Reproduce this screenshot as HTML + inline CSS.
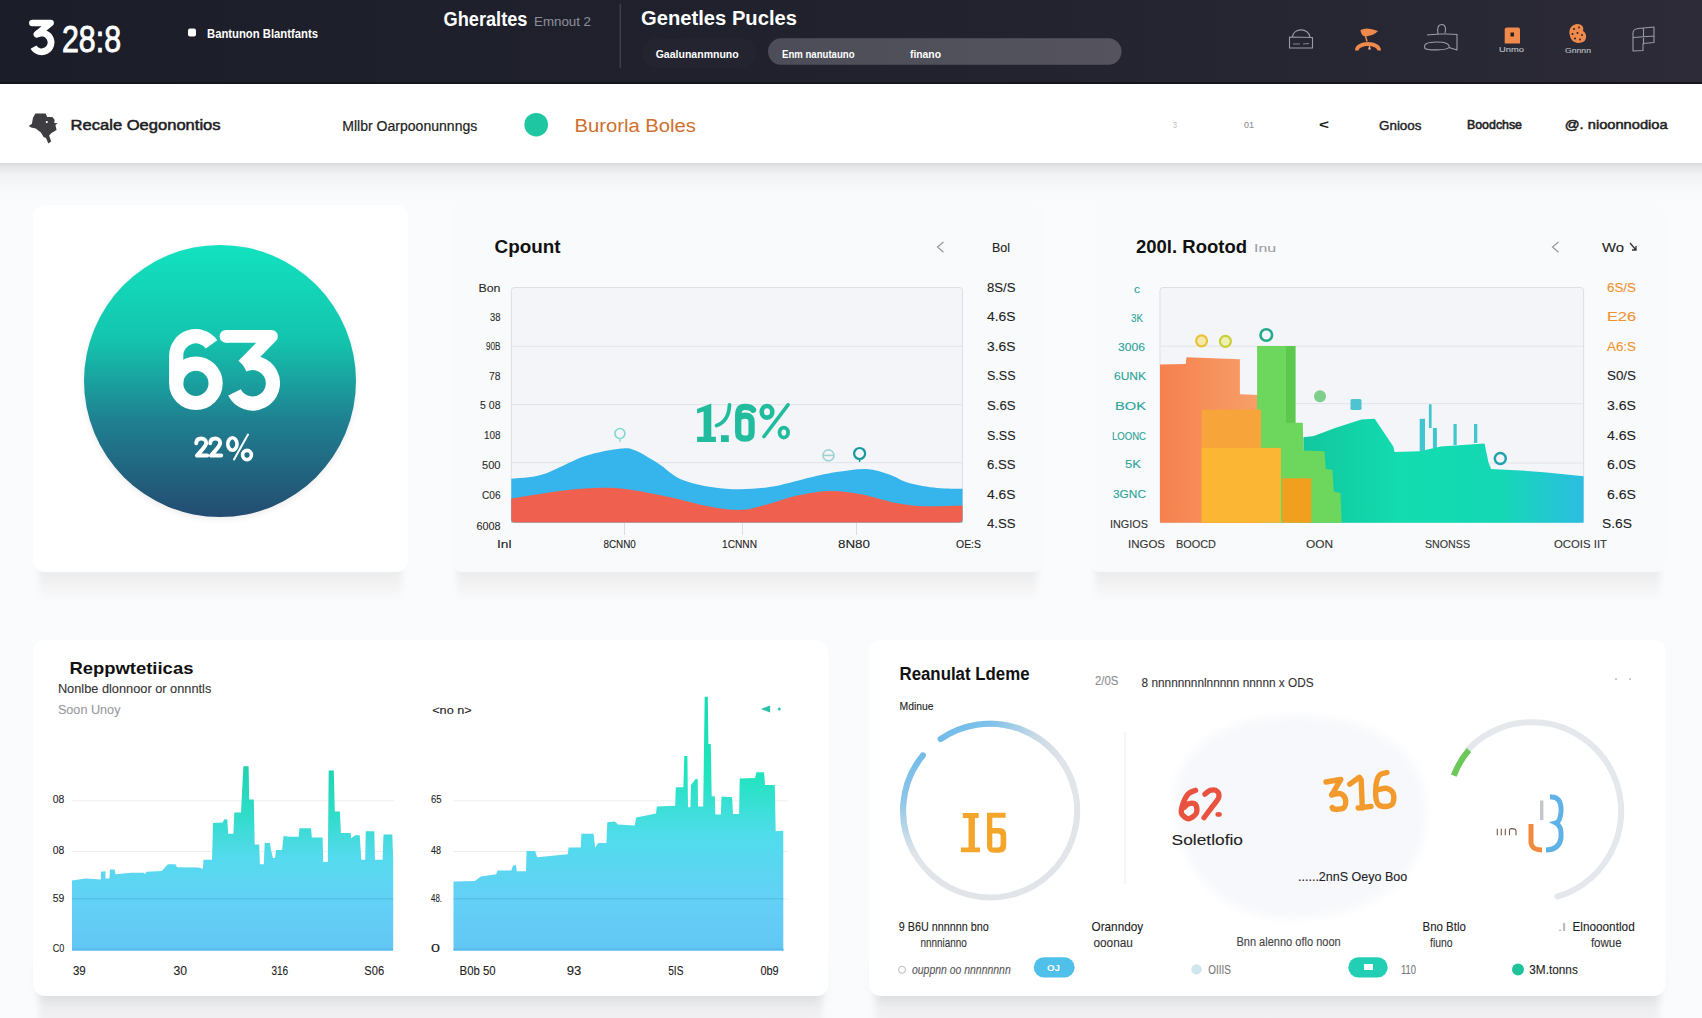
<!DOCTYPE html>
<html><head><meta charset="utf-8"><title>Dashboard</title>
<style>html,body{margin:0;padding:0;background:#fafbfc;overflow:hidden}svg{display:block}</style>
</head><body>
<svg width="1702" height="1018" viewBox="0 0 1702 1018">
<defs>
<linearGradient id="hdr" x1="0" y1="0" x2="1" y2="0">
 <stop offset="0" stop-color="#1b1d29"/><stop offset="0.6" stop-color="#22232f"/><stop offset="1" stop-color="#2c2b37"/>
</linearGradient>
<linearGradient id="circ" x1="0" y1="0" x2="0" y2="1">
 <stop offset="0" stop-color="#12e2bf"/><stop offset="0.35" stop-color="#14c4ae"/><stop offset="0.65" stop-color="#1f7f90"/><stop offset="1" stop-color="#234c70"/>
</linearGradient>
<linearGradient id="pill" x1="0" y1="0" x2="1" y2="0">
 <stop offset="0" stop-color="#4c4d58"/><stop offset="1" stop-color="#55545e"/>
</linearGradient>
<linearGradient id="bars" x1="0" y1="0" x2="0" y2="1">
 <stop offset="0" stop-color="#1fd3b0"/><stop offset="0.25" stop-color="#2edcc8"/><stop offset="0.5" stop-color="#55daee"/><stop offset="0.75" stop-color="#63d0f6"/><stop offset="1" stop-color="#62c6f4"/>
</linearGradient>
<linearGradient id="bars2" x1="0" y1="0" x2="0" y2="1">
 <stop offset="0" stop-color="#14dcb4"/><stop offset="0.3" stop-color="#1fe4bc"/><stop offset="0.55" stop-color="#50dcec"/><stop offset="0.8" stop-color="#64d0f6"/><stop offset="1" stop-color="#62c6f4"/>
</linearGradient>
<linearGradient id="orng" x1="0" y1="0" x2="1" y2="0">
 <stop offset="0" stop-color="#f6804e"/><stop offset="1" stop-color="#f7a06a"/>
</linearGradient>
<linearGradient id="teal" x1="0" y1="0" x2="1" y2="0">
 <stop offset="0" stop-color="#12c79f"/><stop offset="0.35" stop-color="#12dcb0"/><stop offset="0.7" stop-color="#14d8b4"/><stop offset="1" stop-color="#2cbde2"/>
</linearGradient>
<linearGradient id="ring1" x1="0" y1="0" x2="1" y2="0.3">
 <stop offset="0" stop-color="#6fbbea"/><stop offset="0.35" stop-color="#7fc2ea"/><stop offset="0.7" stop-color="#c7d9e6"/><stop offset="1" stop-color="#e1e4e8"/>
</linearGradient>
<linearGradient id="ring1b" x1="0" y1="0" x2="0" y2="1">
 <stop offset="0" stop-color="#74bde9"/><stop offset="0.45" stop-color="#8cc6ea"/><stop offset="1" stop-color="#e1e4e8"/>
</linearGradient>
<linearGradient id="cardsh" x1="0" y1="0" x2="0" y2="1">
 <stop offset="0" stop-color="#e6e7e9"/><stop offset="0.3" stop-color="#eeeff0"/><stop offset="0.7" stop-color="#f6f6f7"/><stop offset="1" stop-color="#fafbfc"/>
</linearGradient>
<linearGradient id="botsh" x1="0" y1="0" x2="0" y2="1">
 <stop offset="0" stop-color="#e9eaec"/><stop offset="0.25" stop-color="#ebecee"/><stop offset="0.7" stop-color="#f1f1f3"/><stop offset="1" stop-color="#f4f4f6"/>
</linearGradient>
<filter id="blur3" x="-10%" y="-30%" width="120%" height="160%"><feGaussianBlur stdDeviation="3"/></filter>
<filter id="blur5" x="-30%" y="-30%" width="160%" height="160%"><feGaussianBlur stdDeviation="5"/></filter>
<filter id="blur8" x="-30%" y="-30%" width="160%" height="160%"><feGaussianBlur stdDeviation="8"/></filter>
<filter id="blur12" x="-30%" y="-30%" width="160%" height="160%"><feGaussianBlur stdDeviation="12"/></filter>
<radialGradient id="blob" cx="0.5" cy="0.5" r="0.5">
 <stop offset="0" stop-color="#eef2f7"/><stop offset="0.75" stop-color="#f0f3f7"/><stop offset="1" stop-color="#f0f3f7" stop-opacity="0"/>
</radialGradient>
<filter id="sh" x="-10%" y="-10%" width="120%" height="130%">
 <feDropShadow dx="0" dy="6" stdDeviation="6" flood-color="#000" flood-opacity="0.07"/>
</filter>
<filter id="sh2" x="-10%" y="-10%" width="120%" height="130%">
 <feDropShadow dx="0" dy="3" stdDeviation="3" flood-color="#000" flood-opacity="0.10"/>
</filter>
<linearGradient id="navsh" x1="0" y1="0" x2="0" y2="1">
 <stop offset="0" stop-color="#d6d7d9"/><stop offset="0.1" stop-color="#e2e3e5"/><stop offset="0.3" stop-color="#f1f2f3"/><stop offset="0.7" stop-color="#f8f9fa"/><stop offset="1" stop-color="#fafbfc"/>
</linearGradient>
<filter id="blur6"><feGaussianBlur stdDeviation="6"/></filter>
</defs>
<rect x="0" y="0" width="1702" height="1018" fill="#fafbfc"/><rect x="0" y="0" width="1702" height="84" fill="url(#hdr)"/><rect x="0" y="82" width="1702" height="2" fill="#14151d"/><path d="M32.4,23 L50.6,23 L36.9,34.3" fill="none" stroke="#fff" stroke-width="6.6" stroke-linecap="round" stroke-linejoin="round"/><path d="M36.9,34.3 A9.4,9.4 0 1 1 33.5,47.1" fill="none" stroke="#fff" stroke-width="6.8"/><text x="62" y="52.4" font-size="36" font-weight="normal" fill="#fff" text-anchor="start" font-family='"Liberation Sans", sans-serif' textLength="59" lengthAdjust="spacingAndGlyphs" stroke="#fff" stroke-width="0.9">28:8</text>
<rect x="188" y="28.5" width="8" height="8" rx="2" fill="#fff"/><text x="207" y="37.5" font-size="12" font-weight="bold" fill="#fff" text-anchor="start" font-family='"Liberation Sans", sans-serif' textLength="111" lengthAdjust="spacingAndGlyphs" >Bantunon Blantfants</text>
<text x="443.5" y="25.5" font-size="19.5" font-weight="bold" fill="#fff" text-anchor="start" font-family='"Liberation Sans", sans-serif' textLength="84" lengthAdjust="spacingAndGlyphs" >Gheraltes</text>
<text x="534" y="26" font-size="13" font-weight="normal" fill="#8b8c96" text-anchor="start" font-family='"Liberation Sans", sans-serif' textLength="57" lengthAdjust="spacingAndGlyphs" stroke="#8b8c96" stroke-width="0.1" >Emnout 2</text>
<rect x="619.5" y="4" width="1.6" height="64" fill="#3c3d48"/><text x="641" y="24.7" font-size="19.5" font-weight="bold" fill="#fff" text-anchor="start" font-family='"Liberation Sans", sans-serif' textLength="156" lengthAdjust="spacingAndGlyphs" >Genetles Pucles</text>
<rect x="642" y="38" width="114" height="30" rx="15" fill="#23242f"/><text x="655.7" y="58" font-size="11" font-weight="bold" fill="#fff" text-anchor="start" font-family='"Liberation Sans", sans-serif' textLength="83" lengthAdjust="spacingAndGlyphs" >Gaalunanmnuno</text>
<rect x="768" y="38.3" width="353.5" height="26.5" rx="13.2" fill="url(#pill)"/><text x="782" y="58.4" font-size="11" font-weight="bold" fill="#fff" text-anchor="start" font-family='"Liberation Sans", sans-serif' textLength="72.5" lengthAdjust="spacingAndGlyphs" >Enm nanutauno</text>
<text x="910" y="58.4" font-size="11" font-weight="bold" fill="#fff" text-anchor="start" font-family='"Liberation Sans", sans-serif' textLength="31" lengthAdjust="spacingAndGlyphs" >finano</text>
<g fill="none" stroke="#9a9ba5" stroke-width="1.1" stroke-linejoin="round">
 <path d="M1289.5,48 L1289.5,37 L1312.5,37.5 L1312.5,48 Z"/><path d="M1292.5,37 C1293,27.5 1309,27.5 1310,37.3"/>
 <path d="M1293,44 L1300,44 M1303,44 L1309,43.5" stroke-width="0.8"/>
 <path d="M1438,34 C1437,28 1438,24.5 1442,24.5 C1446,24.5 1446,30 1445,33 M1427,35 C1432,34 1450,33.5 1457,34.5 L1457,50 L1449,47.5 M1425,48.5 C1423,44 1428,42 1436,42 C1446,42 1450,44 1449,47.5 C1447,50.5 1428,50.5 1425,48.5 Z"/>
 <path d="M1633,51 L1633,33 C1633,30 1635,29 1638,28.5 L1654,27 L1654,42.5 L1643,43.5 L1643,50.5 Z M1643.5,28.5 L1643.5,43.5 M1633.5,37.5 L1654,36"/>
</g><g fill="#f08a4b">
 <path d="M1360.5,30 Q1367,26.5 1378,31 Q1374,35.5 1365,36.5 Q1361,35.5 1360.5,30 Z"/>
 <path d="M1365.5,36 L1367,41.5" stroke="#f08a4b" stroke-width="1.5"/>
 <path d="M1355,50.5 C1355,39 1381,39 1381,50.5 L1377.5,50.5 C1376.5,44.5 1359.5,44.5 1358.5,50.5 Z"/>
 <path d="M1368,49.5 L1369.5,45 L1371,49.5 Z" fill="#f4b088"/>
 <path d="M1504.7,29.5 Q1504.7,27.6 1507,27.6 L1518,27.6 Q1520,27.6 1520,29.5 L1520,43.5 L1504.7,43.5 Z"/>
 <path d="M1570,36 C1568,30 1571,24.5 1577,24 C1583,24 1584,28 1583,31 C1587,33 1587,39 1584,41.5 C1580,44 1572,44 1570,36 Z"/>
</g><rect x="1510.5" y="32.5" width="3.5" height="4" fill="#2a2022"/><g fill="#2a2026"><circle cx="1574" cy="29" r="1"/><circle cx="1579" cy="27.5" r="0.9"/><circle cx="1572.5" cy="34" r="1"/><circle cx="1577.5" cy="33" r="1"/><circle cx="1582" cy="35" r="0.9"/><circle cx="1575" cy="38.5" r="1"/><circle cx="1580" cy="39.5" r="0.9"/></g><text x="1499" y="52" font-size="7" font-weight="normal" fill="#bfc0c8" text-anchor="start" font-family='"Liberation Sans", sans-serif' textLength="25" lengthAdjust="spacingAndGlyphs" stroke="#bfc0c8" stroke-width="0.1" >Unmo</text>
<text x="1565" y="52.5" font-size="7" font-weight="normal" fill="#bfc0c8" text-anchor="start" font-family='"Liberation Sans", sans-serif' textLength="26" lengthAdjust="spacingAndGlyphs" stroke="#bfc0c8" stroke-width="0.1" >Gnnnn</text>
<rect x="0" y="162" width="1702" height="40" fill="url(#navsh)"/><rect x="0" y="84" width="1702" height="79" fill="#fff"/><path d="M28.7,126.1 L31.9,123.7 L33,117.8 L35.4,113.5 L45.6,113.5 L47.2,117 L52.3,117 L54.6,119.8 L54.3,122.9 L57.8,123.3 L55.4,124.9 L56.6,130 L51.5,133.1 L49.1,135.5 L51.1,141.4 L48.4,143.4 L46,137.9 L43.6,137.1 L40.9,132.4 L35.8,128.4 L31.1,127.6 Z" fill="#3d3d42"/><circle cx="46.8" cy="122.1" r="1.1" fill="#fff"/><text x="70.6" y="130.2" font-size="14" font-weight="normal" fill="#1d1d1f" text-anchor="start" font-family='"Liberation Sans", sans-serif' textLength="150" lengthAdjust="spacingAndGlyphs" stroke="#1d1d1f" stroke-width="0.5">Recale Oegonontios</text>
<text x="342.3" y="130.5" font-size="14" font-weight="normal" fill="#222" text-anchor="start" font-family='"Liberation Sans", sans-serif' textLength="135" lengthAdjust="spacingAndGlyphs" stroke="#222" stroke-width="0.2">Mllbr Oarpoonunnngs</text>
<circle cx="536.2" cy="124.7" r="11.8" fill="#1ec6a2"/><text x="574.5" y="132" font-size="18" font-weight="normal" fill="#cf6f2c" text-anchor="start" font-family='"Liberation Sans", sans-serif' textLength="121.5" lengthAdjust="spacingAndGlyphs" >Burorla Boles</text>
<text x="1173" y="128.2" font-size="9" font-weight="normal" fill="#c2c3c8" text-anchor="start" font-family='"Liberation Sans", sans-serif' textLength="4" lengthAdjust="spacingAndGlyphs" stroke="#c2c3c8" stroke-width="0.1" >3</text>
<text x="1244" y="128.2" font-size="9" font-weight="normal" fill="#8d8f96" text-anchor="start" font-family='"Liberation Sans", sans-serif' textLength="10" lengthAdjust="spacingAndGlyphs" stroke="#8d8f96" stroke-width="0.1" >01</text>
<text x="1319" y="129" font-size="12" font-weight="bold" fill="#222" text-anchor="start" font-family='"Liberation Sans", sans-serif' textLength="10" lengthAdjust="spacingAndGlyphs" >&lt;</text>
<text x="1379" y="130" font-size="13" font-weight="normal" fill="#222" text-anchor="start" font-family='"Liberation Sans", sans-serif' textLength="42.5" lengthAdjust="spacingAndGlyphs" stroke="#222" stroke-width="0.4">Gnioos</text>
<text x="1467" y="128.5" font-size="13" font-weight="normal" fill="#222" text-anchor="start" font-family='"Liberation Sans", sans-serif' textLength="55" lengthAdjust="spacingAndGlyphs" stroke="#222" stroke-width="0.6">Boodchse</text>
<text x="1564.7" y="129" font-size="13" font-weight="normal" fill="#222" text-anchor="start" font-family='"Liberation Sans", sans-serif' textLength="103" lengthAdjust="spacingAndGlyphs" stroke="#222" stroke-width="0.5">@. nioonnodioa</text>
<rect x="39" y="566" width="363" height="36" fill="url(#cardsh)" filter="url(#blur3)"/><rect x="33" y="205" width="375" height="367" rx="12" fill="#fff"/><rect x="457" y="566" width="580" height="36" fill="url(#cardsh)" filter="url(#blur3)"/><rect x="451" y="200" width="592" height="372" rx="12" fill="#f9fafb"/><rect x="1095" y="566" width="565" height="36" fill="url(#cardsh)" filter="url(#blur3)"/><rect x="1089" y="200" width="577" height="372" rx="12" fill="#f9fafb"/><circle cx="220" cy="383" r="136.5" fill="#000" opacity="0.07" filter="url(#blur3)"/><circle cx="220" cy="381" r="136" fill="url(#circ)"/><circle cx="195.9" cy="383.3" r="19.7" fill="none" stroke="#fff" stroke-width="14.2"/><path d="M176.2,383.3 L176.2,355.5 A19.5,19.5 0 0 1 211.5,344.3" fill="none" stroke="#fff" stroke-width="14.2"/><path d="M225.8,336.3 L271.5,336.3 L243.1,365.3" fill="none" stroke="#fff" stroke-width="12.8" stroke-linejoin="round"/><path d="M226,336.3 L226.5,336.3" stroke="#fff" stroke-width="12.8" stroke-linecap="round"/><path d="M243.1,365.3 A20.3,20.3 0 1 1 234.5,392.4" fill="none" stroke="#fff" stroke-width="14.2"/><path d="M196.2,443.2 C196.5,439.5 199,438.6 201.2,438.6 C204,438.6 206.2,440.3 206.2,443 C206.2,446 203,448.5 197,455.6 L207.2,455.6" fill="none" stroke="#fff" stroke-width="4" stroke-linecap="round" stroke-linejoin="round"/><path d="M210.2,443.2 C210.5,439.5 213.0,438.6 215.2,438.6 C218.0,438.6 220.2,440.3 220.2,443 C220.2,446 217.0,448.5 211.0,455.6 L221.2,455.6" fill="none" stroke="#fff" stroke-width="4" stroke-linecap="round" stroke-linejoin="round"/><ellipse cx="232.4" cy="444" rx="4.6" ry="6.2" fill="none" stroke="#fff" stroke-width="3.6"/><ellipse cx="247" cy="455" rx="4.4" ry="4.6" fill="none" stroke="#fff" stroke-width="3.6"/><path d="M248,434.5 L234,459.5" stroke="#fff" stroke-width="2" stroke-linecap="round"/><text x="494.6" y="253.1" font-size="18" font-weight="bold" fill="#111" text-anchor="start" font-family='"Liberation Sans", sans-serif' textLength="66" lengthAdjust="spacingAndGlyphs" >Cpount</text>
<path d="M943.5,242 L937.5,247 L943.5,252.3" fill="none" stroke="#999" stroke-width="1.2"/><text x="992" y="252" font-size="12" font-weight="normal" fill="#222" text-anchor="start" font-family='"Liberation Sans", sans-serif' textLength="18" lengthAdjust="spacingAndGlyphs" stroke="#222" stroke-width="0.1" >Bol</text>
<rect x="511.3" y="287.5" width="451.2" height="235" rx="3" fill="#f4f5f8" stroke="#dcdfe3" stroke-width="1"/><rect x="512" y="345.7" width="450" height="1.2" fill="#e4e6ea"/><rect x="512" y="404" width="450" height="1.2" fill="#e4e6ea"/><rect x="512" y="462" width="450" height="1.2" fill="#e4e6ea"/><path d="M511.3,478.8 C516.5,478.1 530.1,478.4 542.3,474.6 C554.5,470.9 571.4,460.6 584.6,456.3 C597.8,452.0 612.8,449.6 621.3,448.6 C629.8,447.7 629.3,448.2 635.4,450.6 C641.5,453.1 649.9,458.4 657.9,463.3 C665.9,468.2 672.0,476.0 683.3,480.2 C694.6,484.4 711.5,487.5 725.6,488.7 C739.7,489.9 753.8,489.2 767.9,487.3 C782.0,485.4 798.5,480.0 810.2,477.4 C822.0,474.8 829.0,473.2 838.4,471.8 C847.8,470.4 858.1,468.5 866.6,469 C875.1,469.5 882.2,472.3 889.2,474.6 C896.2,476.9 900.9,480.8 908.9,483 C916.9,485.2 928.2,487.1 937.1,488 C946.0,488.9 958.3,488.6 962.5,488.7 L962.5,522.5 L511.3,522.5 Z" fill="#36b5ec"/><path d="M511.3,498.6 C518.8,497.4 542.8,493.2 556.4,491.5 C570.0,489.8 581.2,488.5 593,488.1 C604.8,487.7 614.2,487.7 626.9,489.2 C639.6,490.7 655.1,494.1 669.2,497.1 C683.3,500.1 699.3,504.9 711.5,507 C723.7,509.1 733.1,510.3 742.5,509.8 C751.9,509.3 759.0,506.6 767.9,504.2 C776.8,501.8 785.8,497.9 796.1,495.7 C806.5,493.5 819.2,491.1 830,490.9 C840.8,490.7 850.2,492.3 861,494.3 C871.8,496.3 884.5,500.8 894.8,502.8 C905.1,504.8 911.7,505.7 923,506.2 C934.3,506.7 955.9,505.7 962.5,505.6 L962.5,519 Q962.5,522.5 959,522.5 L514.8,522.5 Q511.3,522.5 511.3,519 Z" fill="#f0604f"/><g fill="#21bc9d" stroke="none">
 <path d="M697.1,409 L710.7,403.8 L711.3,403.8 L711.3,436.8 L715.9,436.8 L715.9,442 L697.1,442 L697.1,436.8 L703.6,436.8 L703.6,411.5 L697.1,413.5 Z"/>
 <rect x="721" y="435.2" width="7.8" height="6.8"/>
</g>
<g fill="none" stroke="#21bc9d">
 <path d="M729.5,405 C729,416 724,423 716.5,425.5" stroke-width="3.8" stroke-linecap="round"/>
 <path d="M753,409.8 C751,406.8 748,406.8 745,406.8 C740,406.8 738.2,410 738.2,415 L738.2,432.5 C738.2,437 740.5,438.6 745,438.6 C749.5,438.6 751.6,437 751.6,432.5 L751.6,422 C751.6,417.5 749.5,415.6 745,415.6 C741,415.6 738.5,417.5 738.2,420" stroke-width="6.3" stroke-linecap="round"/>
 <ellipse cx="767" cy="411.8" rx="5.3" ry="5.8" stroke-width="4.6"/>
 <path d="M788,404.8 L764,436.5" stroke-width="3.6" stroke-linecap="round"/>
 <ellipse cx="783.8" cy="432.6" rx="4.3" ry="5" stroke-width="3.8"/>
</g><g fill="none" stroke-width="1.6"><circle cx="619.9" cy="433.5" r="5" stroke="#7fd6d0"/><path d="M619.9,438.5 L619.9,442" stroke="#9fdcd8"/><circle cx="828.5" cy="455.4" r="5.5" stroke="#9ed3d2"/><path d="M823,455.4 L834,455.4" stroke="#9ed3d2"/><circle cx="859.6" cy="453.5" r="5.5" stroke="#169aa0" stroke-width="2.2"/><path d="M859.6,459 L859.6,462" stroke="#169aa0"/></g><rect x="624" y="523" width="1" height="12" fill="#dcdde2"/><rect x="742" y="523" width="1" height="12" fill="#dcdde2"/><rect x="856" y="523" width="1" height="12" fill="#dcdde2"/><text x="500.5" y="292" font-size="11" font-weight="normal" fill="#2a2a2a" text-anchor="end" font-family='"Liberation Sans", sans-serif' textLength="22.100000000000023" lengthAdjust="spacingAndGlyphs" stroke="#2a2a2a" stroke-width="0.1" >Bon</text>
<text x="500.5" y="320.5" font-size="11" font-weight="normal" fill="#2a2a2a" text-anchor="end" font-family='"Liberation Sans", sans-serif' textLength="10.5" lengthAdjust="spacingAndGlyphs" stroke="#2a2a2a" stroke-width="0.1" >38</text>
<text x="500.5" y="350" font-size="11" font-weight="normal" fill="#2a2a2a" text-anchor="end" font-family='"Liberation Sans", sans-serif' textLength="14.5" lengthAdjust="spacingAndGlyphs" stroke="#2a2a2a" stroke-width="0.1" >90B</text>
<text x="500.5" y="379.5" font-size="11" font-weight="normal" fill="#2a2a2a" text-anchor="end" font-family='"Liberation Sans", sans-serif' textLength="11.5" lengthAdjust="spacingAndGlyphs" stroke="#2a2a2a" stroke-width="0.1" >78</text>
<text x="500.5" y="409" font-size="11" font-weight="normal" fill="#2a2a2a" text-anchor="end" font-family='"Liberation Sans", sans-serif' textLength="20.5" lengthAdjust="spacingAndGlyphs" stroke="#2a2a2a" stroke-width="0.1" >5 08</text>
<text x="500.5" y="439" font-size="11" font-weight="normal" fill="#2a2a2a" text-anchor="end" font-family='"Liberation Sans", sans-serif' textLength="16.5" lengthAdjust="spacingAndGlyphs" stroke="#2a2a2a" stroke-width="0.1" >108</text>
<text x="500.5" y="468.5" font-size="11" font-weight="normal" fill="#2a2a2a" text-anchor="end" font-family='"Liberation Sans", sans-serif' textLength="18.5" lengthAdjust="spacingAndGlyphs" stroke="#2a2a2a" stroke-width="0.1" >500</text>
<text x="500.5" y="499" font-size="11" font-weight="normal" fill="#2a2a2a" text-anchor="end" font-family='"Liberation Sans", sans-serif' textLength="18.5" lengthAdjust="spacingAndGlyphs" stroke="#2a2a2a" stroke-width="0.1" >C06</text>
<text x="500.5" y="530" font-size="11" font-weight="normal" fill="#2a2a2a" text-anchor="end" font-family='"Liberation Sans", sans-serif' textLength="24.100000000000023" lengthAdjust="spacingAndGlyphs" stroke="#2a2a2a" stroke-width="0.1" >6008</text>
<text x="987" y="291.5" font-size="13" font-weight="normal" fill="#222" text-anchor="start" font-family='"Liberation Sans", sans-serif' textLength="28.5" lengthAdjust="spacingAndGlyphs" stroke="#222" stroke-width="0.1" >8S/S</text>
<text x="987" y="321.1" font-size="13" font-weight="normal" fill="#222" text-anchor="start" font-family='"Liberation Sans", sans-serif' textLength="28.5" lengthAdjust="spacingAndGlyphs" stroke="#222" stroke-width="0.1" >4.6S</text>
<text x="987" y="350.7" font-size="13" font-weight="normal" fill="#222" text-anchor="start" font-family='"Liberation Sans", sans-serif' textLength="28.5" lengthAdjust="spacingAndGlyphs" stroke="#222" stroke-width="0.1" >3.6S</text>
<text x="987" y="380.3" font-size="13" font-weight="normal" fill="#222" text-anchor="start" font-family='"Liberation Sans", sans-serif' textLength="28.5" lengthAdjust="spacingAndGlyphs" stroke="#222" stroke-width="0.1" >S.SS</text>
<text x="987" y="409.9" font-size="13" font-weight="normal" fill="#222" text-anchor="start" font-family='"Liberation Sans", sans-serif' textLength="28.5" lengthAdjust="spacingAndGlyphs" stroke="#222" stroke-width="0.1" >S.6S</text>
<text x="987" y="439.5" font-size="13" font-weight="normal" fill="#222" text-anchor="start" font-family='"Liberation Sans", sans-serif' textLength="28.5" lengthAdjust="spacingAndGlyphs" stroke="#222" stroke-width="0.1" >S.SS</text>
<text x="987" y="469.1" font-size="13" font-weight="normal" fill="#222" text-anchor="start" font-family='"Liberation Sans", sans-serif' textLength="28.5" lengthAdjust="spacingAndGlyphs" stroke="#222" stroke-width="0.1" >6.SS</text>
<text x="987" y="498.70000000000005" font-size="13" font-weight="normal" fill="#222" text-anchor="start" font-family='"Liberation Sans", sans-serif' textLength="28.5" lengthAdjust="spacingAndGlyphs" stroke="#222" stroke-width="0.1" >4.6S</text>
<text x="987" y="528.3" font-size="13" font-weight="normal" fill="#222" text-anchor="start" font-family='"Liberation Sans", sans-serif' textLength="28.5" lengthAdjust="spacingAndGlyphs" stroke="#222" stroke-width="0.1" >4.SS</text>
<text x="497" y="548.4" font-size="11" font-weight="normal" fill="#222" text-anchor="start" font-family='"Liberation Sans", sans-serif' textLength="14.5" lengthAdjust="spacingAndGlyphs" stroke="#222" stroke-width="0.1" >Inl</text>
<text x="603.4" y="548.4" font-size="11" font-weight="normal" fill="#222" text-anchor="start" font-family='"Liberation Sans", sans-serif' textLength="32.4" lengthAdjust="spacingAndGlyphs" stroke="#222" stroke-width="0.1" >8CNN0</text>
<text x="722" y="548.4" font-size="11" font-weight="normal" fill="#222" text-anchor="start" font-family='"Liberation Sans", sans-serif' textLength="35" lengthAdjust="spacingAndGlyphs" stroke="#222" stroke-width="0.1" >1CNNN</text>
<text x="838" y="548.4" font-size="11" font-weight="normal" fill="#222" text-anchor="start" font-family='"Liberation Sans", sans-serif' textLength="32" lengthAdjust="spacingAndGlyphs" stroke="#222" stroke-width="0.1" >8N80</text>
<text x="956" y="548.4" font-size="11" font-weight="normal" fill="#222" text-anchor="start" font-family='"Liberation Sans", sans-serif' textLength="25" lengthAdjust="spacingAndGlyphs" stroke="#222" stroke-width="0.1" >OE:S</text>
<text x="1136" y="253.1" font-size="18" font-weight="bold" fill="#111" text-anchor="start" font-family='"Liberation Sans", sans-serif' textLength="111" lengthAdjust="spacingAndGlyphs" >200l. Rootod</text>
<text x="1254" y="252" font-size="11" font-weight="normal" fill="#a0a0a8" text-anchor="start" font-family='"Liberation Sans", sans-serif' textLength="22" lengthAdjust="spacingAndGlyphs" stroke="#a0a0a8" stroke-width="0.1" >Inu</text>
<path d="M1558.5,242 L1552.5,247 L1558.5,252.3" fill="none" stroke="#999" stroke-width="1.2"/><text x="1602" y="252" font-size="12" font-weight="normal" fill="#222" text-anchor="start" font-family='"Liberation Sans", sans-serif' textLength="22" lengthAdjust="spacingAndGlyphs" stroke="#222" stroke-width="0.1" >Wo</text>
<path d="M1630,243 L1636,250 M1636,246 L1636,250 L1632,250" fill="none" stroke="#333" stroke-width="1.3"/><rect x="1160" y="287.5" width="423.6" height="235" rx="3" fill="#f4f5f8" stroke="#dcdfe3" stroke-width="1"/><rect x="1161" y="345.6" width="422" height="1.2" fill="#e4e6ea"/><rect x="1161" y="403" width="422" height="1.2" fill="#e4e6ea"/><rect x="1161" y="462.4" width="422" height="1.2" fill="#e4e6ea"/><polygon points="1160,522.7 1160,364.6 1185.7,364.1 1186.5,357.2 1239.9,359.3 1239.9,394.2 1259.7,395 1261,522.7" fill="url(#orng)"/><polygon points="1303.4,522.7 1303.4,437.3 1313.9,436 1335.1,428.1 1361.5,419.6 1374.7,418.8 1393.3,446.6 1394.6,451.9 1419.7,451.3 1440.9,446.6 1484.5,443.4 1488.5,462.4 1491.1,469 1520.2,470.4 1546.6,472.5 1583.6,476.2 1583.6,522.7" fill="url(#teal)"/><polygon points="1257.1,522.7 1257.1,346.1 1295.4,346.1 1295.4,422.8 1302.8,422.8 1303.4,450.5 1324.5,451.3 1325.8,469 1332.4,469.8 1333.8,491.5 1340.4,492.9 1341.7,522.7" fill="#6dd65c"/><rect x="1286" y="346.1" width="9.4" height="76.7" fill="#5cc94e"/><rect x="1201.6" y="409.6" width="59.4" height="113.1" fill="#f7a53a"/><rect x="1201.6" y="447.9" width="79.3" height="74.8" fill="#fbb634"/><rect x="1282.2" y="478.3" width="29.1" height="44.4" fill="#f0a01e"/><rect x="1419.7" y="418.8" width="5.2999999999999545" height="32.19999999999999" fill="#3fc6cf"/><rect x="1428.9" y="404.3" width="2.699999999999818" height="23.69999999999999" fill="#3fc6cf"/><rect x="1432.9" y="428" width="4.0" height="20" fill="#3fc6cf"/><rect x="1453.5" y="424" width="3.2000000000000455" height="21" fill="#3fc6cf"/><rect x="1474" y="424" width="3.2999999999999545" height="19" fill="#3fc6cf"/><g fill="none" stroke-width="2.2"><circle cx="1201.6" cy="340.8" r="5.5" stroke="#e8c23a" fill="#f6e9a8"/><circle cx="1225.4" cy="341.3" r="5.5" stroke="#c9cf3a" fill="#eef0b0"/><circle cx="1266.3" cy="335" r="5.8" stroke="#25a98e" stroke-width="2.6"/><circle cx="1500.3" cy="458.5" r="5.5" stroke="#1fa3ad" stroke-width="2.4"/></g><circle cx="1320" cy="396.3" r="6" fill="#7fcf8c"/><rect x="1350.5" y="399" width="11" height="11" rx="1.5" fill="#4ec4d0"/><text x="1134" y="293" font-size="11" font-weight="normal" fill="#2aa39a" text-anchor="start" font-family='"Liberation Sans", sans-serif' textLength="6" lengthAdjust="spacingAndGlyphs" stroke="#2aa39a" stroke-width="0.1" >c</text>
<text x="1131" y="322" font-size="11" font-weight="normal" fill="#2aa39a" text-anchor="start" font-family='"Liberation Sans", sans-serif' textLength="12" lengthAdjust="spacingAndGlyphs" stroke="#2aa39a" stroke-width="0.1" >3K</text>
<text x="1118" y="351" font-size="11" font-weight="normal" fill="#2aa39a" text-anchor="start" font-family='"Liberation Sans", sans-serif' textLength="27" lengthAdjust="spacingAndGlyphs" stroke="#2aa39a" stroke-width="0.1" >3006</text>
<text x="1114" y="380" font-size="11" font-weight="normal" fill="#2aa39a" text-anchor="start" font-family='"Liberation Sans", sans-serif' textLength="32" lengthAdjust="spacingAndGlyphs" stroke="#2aa39a" stroke-width="0.1" >6UNK</text>
<text x="1115" y="410" font-size="11" font-weight="normal" fill="#2aa39a" text-anchor="start" font-family='"Liberation Sans", sans-serif' textLength="31" lengthAdjust="spacingAndGlyphs" stroke="#2aa39a" stroke-width="0.1" >BOK</text>
<text x="1112" y="440" font-size="11" font-weight="normal" fill="#2aa39a" text-anchor="start" font-family='"Liberation Sans", sans-serif' textLength="34" lengthAdjust="spacingAndGlyphs" stroke="#2aa39a" stroke-width="0.1" >LOONC</text>
<text x="1125" y="468" font-size="11" font-weight="normal" fill="#2aa39a" text-anchor="start" font-family='"Liberation Sans", sans-serif' textLength="16" lengthAdjust="spacingAndGlyphs" stroke="#2aa39a" stroke-width="0.1" >5K</text>
<text x="1113" y="498" font-size="11" font-weight="normal" fill="#2aa39a" text-anchor="start" font-family='"Liberation Sans", sans-serif' textLength="33" lengthAdjust="spacingAndGlyphs" stroke="#2aa39a" stroke-width="0.1" >3GNC</text>
<text x="1110" y="528" font-size="11" font-weight="normal" fill="#333" text-anchor="start" font-family='"Liberation Sans", sans-serif' textLength="38" lengthAdjust="spacingAndGlyphs" stroke="#333" stroke-width="0.1" >INGIOS</text>
<text x="1607" y="291.5" font-size="13" font-weight="normal" fill="#f0922e" text-anchor="start" font-family='"Liberation Sans", sans-serif' textLength="29" lengthAdjust="spacingAndGlyphs" stroke="#f0922e" stroke-width="0.1" >6S/S</text>
<text x="1607" y="321.1" font-size="13" font-weight="normal" fill="#f0922e" text-anchor="start" font-family='"Liberation Sans", sans-serif' textLength="29" lengthAdjust="spacingAndGlyphs" stroke="#f0922e" stroke-width="0.1" >E26</text>
<text x="1607" y="350.7" font-size="13" font-weight="normal" fill="#f0922e" text-anchor="start" font-family='"Liberation Sans", sans-serif' textLength="29" lengthAdjust="spacingAndGlyphs" stroke="#f0922e" stroke-width="0.1" >A6:S</text>
<text x="1607" y="380.3" font-size="13" font-weight="normal" fill="#222" text-anchor="start" font-family='"Liberation Sans", sans-serif' textLength="29" lengthAdjust="spacingAndGlyphs" stroke="#222" stroke-width="0.1" >S0/S</text>
<text x="1607" y="409.9" font-size="13" font-weight="normal" fill="#222" text-anchor="start" font-family='"Liberation Sans", sans-serif' textLength="29" lengthAdjust="spacingAndGlyphs" stroke="#222" stroke-width="0.1" >3.6S</text>
<text x="1607" y="439.5" font-size="13" font-weight="normal" fill="#222" text-anchor="start" font-family='"Liberation Sans", sans-serif' textLength="29" lengthAdjust="spacingAndGlyphs" stroke="#222" stroke-width="0.1" >4.6S</text>
<text x="1607" y="469.1" font-size="13" font-weight="normal" fill="#222" text-anchor="start" font-family='"Liberation Sans", sans-serif' textLength="29" lengthAdjust="spacingAndGlyphs" stroke="#222" stroke-width="0.1" >6.0S</text>
<text x="1607" y="498.70000000000005" font-size="13" font-weight="normal" fill="#222" text-anchor="start" font-family='"Liberation Sans", sans-serif' textLength="29" lengthAdjust="spacingAndGlyphs" stroke="#222" stroke-width="0.1" >6.6S</text>
<text x="1602" y="528.3" font-size="13" font-weight="normal" fill="#222" text-anchor="start" font-family='"Liberation Sans", sans-serif' textLength="30" lengthAdjust="spacingAndGlyphs" stroke="#222" stroke-width="0.1" >S.6S</text>
<text x="1128" y="548.4" font-size="11" font-weight="normal" fill="#333" text-anchor="start" font-family='"Liberation Sans", sans-serif' textLength="37" lengthAdjust="spacingAndGlyphs" stroke="#333" stroke-width="0.1" >INGOS</text>
<text x="1176" y="548.4" font-size="11" font-weight="normal" fill="#333" text-anchor="start" font-family='"Liberation Sans", sans-serif' textLength="40" lengthAdjust="spacingAndGlyphs" stroke="#333" stroke-width="0.1" >BOOCD</text>
<text x="1306" y="548.4" font-size="11" font-weight="normal" fill="#333" text-anchor="start" font-family='"Liberation Sans", sans-serif' textLength="27" lengthAdjust="spacingAndGlyphs" stroke="#333" stroke-width="0.1" >OON</text>
<text x="1425" y="548.4" font-size="11" font-weight="normal" fill="#333" text-anchor="start" font-family='"Liberation Sans", sans-serif' textLength="45" lengthAdjust="spacingAndGlyphs" stroke="#333" stroke-width="0.1" >SNONSS</text>
<text x="1554" y="548.4" font-size="11" font-weight="normal" fill="#333" text-anchor="start" font-family='"Liberation Sans", sans-serif' textLength="53" lengthAdjust="spacingAndGlyphs" stroke="#333" stroke-width="0.1" >OCOIS IIT</text>
<rect x="39" y="990" width="783.5" height="40" fill="url(#botsh)" filter="url(#blur3)"/><rect x="875" y="990" width="784.5" height="40" fill="url(#botsh)" filter="url(#blur3)"/><rect x="37" y="956" width="787.5" height="46" rx="12" fill="#000" opacity="0.05" filter="url(#blur6)"/><rect x="33" y="640" width="795.5" height="356" rx="12" fill="#fff"/><rect x="873" y="956" width="788.5" height="46" rx="12" fill="#000" opacity="0.05" filter="url(#blur6)"/><rect x="869" y="640" width="796.5" height="356" rx="12" fill="#fff"/><text x="69.4" y="674" font-size="17" font-weight="bold" fill="#111" text-anchor="start" font-family='"Liberation Sans", sans-serif' textLength="124" lengthAdjust="spacingAndGlyphs" >Reppwtetiicas</text>
<text x="57.9" y="693.1" font-size="13" font-weight="normal" fill="#333" text-anchor="start" font-family='"Liberation Sans", sans-serif' textLength="153.4" lengthAdjust="spacingAndGlyphs" stroke="#333" stroke-width="0.1" >Nonlbe dlonnoor or onnntls</text>
<text x="57.9" y="713.5" font-size="13" font-weight="normal" fill="#9a9aa0" text-anchor="start" font-family='"Liberation Sans", sans-serif' textLength="62.6" lengthAdjust="spacingAndGlyphs" stroke="#9a9aa0" stroke-width="0.1" >Soon Unoy</text>
<rect x="72" y="800.3" width="322" height="1" fill="#eceef1"/><rect x="453" y="800.3" width="335" height="1" fill="#eceef1"/><rect x="72" y="851.1" width="322" height="1" fill="#eceef1"/><rect x="453" y="851.1" width="335" height="1" fill="#eceef1"/><rect x="72" y="898.6" width="322" height="1" fill="#eceef1"/><rect x="453" y="898.6" width="335" height="1" fill="#eceef1"/><polygon points="72.0,880.4 85.7,878.5 100.9,879.5 100.9,871.8 105.5,871.2 105.5,878.5 109.4,878.5 110.0,869.4 114.6,869.4 115.5,874.3 131.4,872.8 143.5,872.8 145.1,874.0 146.6,871.8 161.8,870.9 167.9,864.2 175.5,864.2 177.0,867.3 198.3,867.6 202.9,868.8 203.5,859.7 212.0,859.7 213.0,823.1 222.7,822.5 224.2,819.2 227.3,819.5 228.2,833.8 233.4,833.8 234.3,812.5 241.0,812.5 243.4,766.2 248.6,766.2 249.2,799.4 253.8,799.4 254.7,844.4 259.2,844.4 259.9,864.2 263.8,864.2 264.7,842.9 269.9,842.9 270.8,849.0 272.9,858.1 275.1,858.1 276.0,849.9 282.1,849.9 283.6,835.9 289.7,836.8 298.8,836.8 299.4,828.3 311.0,828.3 311.9,837.4 322.6,837.4 323.2,862.1 327.8,862.1 328.7,770.4 333.8,770.4 334.8,811.5 339.9,811.5 340.9,832.9 350.6,832.9 351.2,838.3 355.2,835.3 359.7,835.3 361.3,859.7 365.2,859.7 365.8,831.3 374.3,831.3 375.0,859.7 382.6,859.7 383.5,834.4 392.3,834.4 393.2,859.7 393.2,950.4 72.0,950.4" fill="url(#bars)"/><polygon points="453.5,881.6 474.8,881.0 480.9,876.4 496.1,874.3 497.6,870.6 511.4,870.6 512.9,865.7 515.9,865.1 516.8,871.2 526.0,871.2 526.6,851.1 535.1,851.1 537.2,857.2 567.7,854.2 568.6,847.5 580.8,847.5 581.4,833.8 593.6,833.8 595.1,847.5 598.1,842.9 606.4,842.9 607.3,822.2 614.9,821.6 617.9,824.6 634.7,825.6 636.2,817.6 656.0,813.4 656.9,806.4 675.2,805.8 675.8,787.2 683.4,787.2 684.3,756.1 687.4,756.1 688.0,807.3 690.4,807.3 691.0,785.1 695.6,779.0 697.7,779.0 698.0,806.4 703.2,806.4 704.7,696.7 707.8,696.7 708.4,743.9 710.8,743.9 711.7,796.3 714.8,796.3 715.4,814.6 720.9,814.6 721.5,796.6 732.1,797.2 733.0,814.0 739.1,814.0 739.7,778.4 755.0,778.1 756.5,772.3 764.1,772.3 765.0,785.1 774.8,785.1 775.7,831.3 783.3,830.7 783.3,950.4 453.5,950.4" fill="url(#bars2)"/><rect x="72" y="898.2" width="321" height="1.2" fill="#4ab6e0" opacity="0.6"/><rect x="453.5" y="898.2" width="330" height="1.2" fill="#4ab6e0" opacity="0.6"/><rect x="72" y="948.5" width="321" height="2" fill="#58b8ea"/><rect x="453.5" y="948.5" width="330" height="2" fill="#58b8ea"/><text x="52.8" y="803.3" font-size="11" font-weight="normal" fill="#222" text-anchor="start" font-family='"Liberation Sans", sans-serif' textLength="11.6" lengthAdjust="spacingAndGlyphs" stroke="#222" stroke-width="0.1" >08</text>
<text x="52.8" y="854.2" font-size="11" font-weight="normal" fill="#222" text-anchor="start" font-family='"Liberation Sans", sans-serif' textLength="11.6" lengthAdjust="spacingAndGlyphs" stroke="#222" stroke-width="0.1" >08</text>
<text x="52.8" y="902.3" font-size="11" font-weight="normal" fill="#222" text-anchor="start" font-family='"Liberation Sans", sans-serif' textLength="11.6" lengthAdjust="spacingAndGlyphs" stroke="#222" stroke-width="0.1" >59</text>
<text x="52.8" y="951.9" font-size="11" font-weight="normal" fill="#222" text-anchor="start" font-family='"Liberation Sans", sans-serif' textLength="11.6" lengthAdjust="spacingAndGlyphs" stroke="#222" stroke-width="0.1" >C0</text>
<text x="431" y="803.3" font-size="11" font-weight="normal" fill="#222" text-anchor="start" font-family='"Liberation Sans", sans-serif' textLength="10.6" lengthAdjust="spacingAndGlyphs" stroke="#222" stroke-width="0.1" >65</text>
<text x="431" y="854.2" font-size="11" font-weight="normal" fill="#222" text-anchor="start" font-family='"Liberation Sans", sans-serif' textLength="10" lengthAdjust="spacingAndGlyphs" stroke="#222" stroke-width="0.1" >48</text>
<text x="431" y="902.3" font-size="11" font-weight="normal" fill="#222" text-anchor="start" font-family='"Liberation Sans", sans-serif' textLength="11" lengthAdjust="spacingAndGlyphs" stroke="#222" stroke-width="0.1" >48.</text>
<text x="431" y="951.9" font-size="11" font-weight="normal" fill="#222" text-anchor="start" font-family='"Liberation Sans", sans-serif' textLength="9" lengthAdjust="spacingAndGlyphs" stroke="#222" stroke-width="0.1" >0</text>
<text x="72.9" y="974.8" font-size="12" font-weight="normal" fill="#222" text-anchor="start" font-family='"Liberation Sans", sans-serif' textLength="12.8" lengthAdjust="spacingAndGlyphs" stroke="#222" stroke-width="0.1" >39</text>
<text x="173.4" y="974.8" font-size="12" font-weight="normal" fill="#222" text-anchor="start" font-family='"Liberation Sans", sans-serif' textLength="13.6" lengthAdjust="spacingAndGlyphs" stroke="#222" stroke-width="0.1" >30</text>
<text x="271.4" y="974.8" font-size="12" font-weight="normal" fill="#222" text-anchor="start" font-family='"Liberation Sans", sans-serif' textLength="16.8" lengthAdjust="spacingAndGlyphs" stroke="#222" stroke-width="0.1" >316</text>
<text x="364.3" y="974.8" font-size="12" font-weight="normal" fill="#222" text-anchor="start" font-family='"Liberation Sans", sans-serif' textLength="19.8" lengthAdjust="spacingAndGlyphs" stroke="#222" stroke-width="0.1" >S06</text>
<text x="459.6" y="974.8" font-size="12" font-weight="normal" fill="#222" text-anchor="start" font-family='"Liberation Sans", sans-serif' textLength="36" lengthAdjust="spacingAndGlyphs" stroke="#222" stroke-width="0.1" >B0b 50</text>
<text x="566.8" y="974.8" font-size="12" font-weight="normal" fill="#222" text-anchor="start" font-family='"Liberation Sans", sans-serif' textLength="14.6" lengthAdjust="spacingAndGlyphs" stroke="#222" stroke-width="0.1" >93</text>
<text x="668.2" y="974.8" font-size="12" font-weight="normal" fill="#222" text-anchor="start" font-family='"Liberation Sans", sans-serif' textLength="15.2" lengthAdjust="spacingAndGlyphs" stroke="#222" stroke-width="0.1" >5IS</text>
<text x="760.4" y="974.8" font-size="12" font-weight="normal" fill="#222" text-anchor="start" font-family='"Liberation Sans", sans-serif' textLength="18.3" lengthAdjust="spacingAndGlyphs" stroke="#222" stroke-width="0.1" >0b9</text>
<text x="432.2" y="713.5" font-size="11" font-weight="normal" fill="#222" text-anchor="start" font-family='"Liberation Sans", sans-serif' textLength="39.6" lengthAdjust="spacingAndGlyphs" stroke="#222" stroke-width="0.1" >&lt;no n&gt;</text>
<polygon points="761,709 770.2,705.5 770.2,712.5" fill="#2cc3a8"/><circle cx="779.3" cy="709" r="1.5" fill="#2cc3a8"/><text x="899.5" y="680.3" font-size="18" font-weight="bold" fill="#111" text-anchor="start" font-family='"Liberation Sans", sans-serif' textLength="130" lengthAdjust="spacingAndGlyphs" >Reanulat Ldeme</text>
<text x="1094.9" y="685" font-size="12" font-weight="normal" fill="#8c8c92" text-anchor="start" font-family='"Liberation Sans", sans-serif' textLength="23.5" lengthAdjust="spacingAndGlyphs" stroke="#8c8c92" stroke-width="0.1" >2/0S</text>
<text x="1141.6" y="686.5" font-size="12" font-weight="normal" fill="#333" text-anchor="start" font-family='"Liberation Sans", sans-serif' textLength="172" lengthAdjust="spacingAndGlyphs" stroke="#333" stroke-width="0.1" >8 nnnnnnnnlnnnnn nnnnn x ODS</text>
<text x="899.5" y="710" font-size="11" font-weight="normal" fill="#222" text-anchor="start" font-family='"Liberation Sans", sans-serif' textLength="34" lengthAdjust="spacingAndGlyphs" stroke="#222" stroke-width="0.1" >Mdinue</text>
<circle cx="1616" cy="679" r="1" fill="#bbb"/><circle cx="1630" cy="679" r="1" fill="#bbb"/><path d="M940.7,739.0 A87,87 0 1 1 922.9,755.4" fill="none" stroke="#e1e4e8" stroke-width="6" stroke-linecap="round"/><path d="M940.7,739.0 A87,87 0 0 1 1074.0,788.2" fill="none" stroke="url(#ring1)" stroke-width="6" stroke-linecap="round"/><path d="M914.7,854.2 A87,87 0 0 1 922.9,755.4" fill="none" stroke="url(#ring1b)" stroke-width="6" stroke-linecap="round"/><path d="M962.8,813.1 H978.7 V817.9 H974.9 V847.6 H980 V852.2 H960.9 V847.6 H968.5 V817.9 H962.8 Z" fill="#f4a62a"/><path fill-rule="evenodd" d="M987,812.8 H1005.6 V817.8 H992.3 V828.1 H999.5 Q1006.2,828.1 1006.2,835 V845.5 Q1006.2,852.7 999,852.7 H994 Q987,852.7 987,845.5 Z M992.3,833.4 V847.5 H997.8 Q1000.6,847.5 1000.6,844.5 V836 Q1000.6,833.4 997.8,833.4 Z" fill="#f4a62a"/><rect x="1124.5" y="732" width="1.2" height="152" fill="#eef0f3"/><path d="M1175,800 C1175,745 1230,716 1295,716 C1370,716 1426,748 1426,812 C1426,880 1370,918 1290,918 C1215,918 1175,862 1175,800 Z" fill="#f7f8fb" filter="url(#blur5)"/><path d="M1195.5,790.4 C1194.2,791.0 1190.1,791.6 1187.9,794.2 C1185.7,796.8 1183.3,802.6 1182.3,805.9 C1181.3,809.2 1180.7,811.9 1181.8,814.0 C1182.9,816.1 1186.5,818.9 1188.9,818.7 C1191.3,818.5 1195.3,815.4 1196.4,813.0 C1197.5,810.6 1196.8,806.1 1195.5,804.5 C1194.2,802.9 1190.8,803.1 1188.9,803.6 C1187.0,804.1 1185.0,806.8 1184.2,807.4" fill="none" stroke="#e8523e" stroke-width="5.4" stroke-linecap="round" stroke-linejoin="round"/><path d="M1204.9,794.2 C1205.8,793.6 1208.0,790.9 1210.1,790.4 C1212.1,789.9 1215.8,790.0 1217.2,791.3 C1218.6,792.5 1219.4,795.4 1218.6,797.9 C1217.8,800.4 1214.9,803.1 1212.5,806.4 C1210.1,809.7 1205.4,815.8 1204.0,817.7" fill="none" stroke="#e8523e" stroke-width="5.2" stroke-linecap="round" stroke-linejoin="round"/><ellipse cx="1218.6" cy="814.4" rx="3.2" ry="2.4" fill="#e8523e"/><text x="1171.6" y="844.8" font-size="14" font-weight="normal" fill="#222" text-anchor="start" font-family='"Liberation Sans", sans-serif' textLength="71.4" lengthAdjust="spacingAndGlyphs" stroke="#222" stroke-width="0.1" >Soletlofio</text>
<path d="M1326,782 L1340.8,779.4 L1331.8,794.8 " fill="none" stroke="#f29a2b" stroke-width="5.4" stroke-linecap="round" stroke-linejoin="round"/><path d="M1331.8,794.8 C1333.3,794.6 1338.5,792.8 1340.8,793.7 C1343.1,794.6 1345.1,797.7 1345.6,800.1 C1346.0,802.5 1345.5,806.5 1343.5,808.0 C1341.5,809.5 1335.8,809.2 1333.9,809.1 C1332.0,809.0 1332.6,807.8 1332.3,807.5" fill="none" stroke="#f29a2b" stroke-width="5.4" stroke-linecap="round" stroke-linejoin="round"/><path d="M1349.8,784.1 L1359.4,777.3 L1361.2,780 L1362.3,808 M1358.2,808 L1371,806.4" fill="none" stroke="#f29a2b" stroke-width="5.4" stroke-linecap="round" stroke-linejoin="round"/><path d="M1386.9,772.5 C1385.6,773.0 1380.8,773.1 1379.0,775.7 C1377.2,778.3 1376.1,783.5 1375.8,787.9 C1375.5,792.3 1375.8,799.1 1376.9,802.2 C1378.1,805.3 1380.2,806.0 1382.7,806.4 C1385.2,806.8 1390.4,806.4 1392.2,804.3 C1394.0,802.2 1394.2,796.4 1393.3,793.7 C1392.4,791.1 1389.3,789.1 1386.9,788.4 C1384.5,787.7 1380.3,789.3 1379.0,789.5" fill="none" stroke="#f29a2b" stroke-width="5.4" stroke-linecap="round" stroke-linejoin="round"/><text x="1298" y="880.5" font-size="12" font-weight="normal" fill="#222" text-anchor="start" font-family='"Liberation Sans", sans-serif' textLength="109.2" lengthAdjust="spacingAndGlyphs" stroke="#222" stroke-width="0.1" >......2nnS Oeyo Boo</text>
<path d="M1468.9,748.6 A89,89 0 1 1 1557.5,896.5" fill="none" stroke="#e4e7eb" stroke-width="6" stroke-linecap="round"/><path d="M1453.8,775.6 A88,88 0 0 1 1468.9,750" fill="none" stroke="#6cc85a" stroke-width="6"/><path d="M1531,824 L1531,843 Q1532,850 1542,850" fill="none" stroke="#f08a3c" stroke-width="5"/><path d="M1550,797 Q1562,796 1561,812 Q1560,822 1556,823 Q1562,826 1561,838 Q1559,850 1546,850" fill="none" stroke="#5eb2e6" stroke-width="5"/><rect x="1540" y="800.5" width="3.4" height="19.5" fill="#c4c6cb"/><path d="M1497.3,828.8 V835.2 M1501.3,828.8 V835.2 M1505.3,828.8 V835.2 M1509.5,835.2 V830 Q1509.5,828.6 1511.6,828.6 Q1516,828.6 1516,831 V835.2" fill="none" stroke="#7a5546" stroke-width="1.1"/><text x="898.8" y="931.3" font-size="13" font-weight="normal" fill="#222" text-anchor="start" font-family='"Liberation Sans", sans-serif' textLength="90" lengthAdjust="spacingAndGlyphs" stroke="#222" stroke-width="0.1" >9 B6U nnnnnn bno</text>
<text x="920.4" y="947.3" font-size="12" font-weight="normal" fill="#333" text-anchor="start" font-family='"Liberation Sans", sans-serif' textLength="46.5" lengthAdjust="spacingAndGlyphs" stroke="#333" stroke-width="0.1" >nnnnianno</text>
<text x="1091.5" y="931.3" font-size="13" font-weight="normal" fill="#222" text-anchor="start" font-family='"Liberation Sans", sans-serif' textLength="51.7" lengthAdjust="spacingAndGlyphs" stroke="#222" stroke-width="0.1" >Oranndoy</text>
<text x="1093.4" y="947.3" font-size="12" font-weight="normal" fill="#333" text-anchor="start" font-family='"Liberation Sans", sans-serif' textLength="39.5" lengthAdjust="spacingAndGlyphs" stroke="#333" stroke-width="0.1" >ooonau</text>
<text x="1236.4" y="946.4" font-size="12" font-weight="normal" fill="#444" text-anchor="start" font-family='"Liberation Sans", sans-serif' textLength="104.3" lengthAdjust="spacingAndGlyphs" stroke="#444" stroke-width="0.1" >Bnn alenno oflo noon</text>
<text x="1422.5" y="931.3" font-size="13" font-weight="normal" fill="#222" text-anchor="start" font-family='"Liberation Sans", sans-serif' textLength="43.3" lengthAdjust="spacingAndGlyphs" stroke="#222" stroke-width="0.1" >Bno Btlo</text>
<text x="1430" y="947.3" font-size="12" font-weight="normal" fill="#333" text-anchor="start" font-family='"Liberation Sans", sans-serif' textLength="22.6" lengthAdjust="spacingAndGlyphs" stroke="#333" stroke-width="0.1" >fiuno</text>
<text x="1557.8" y="931.2" font-size="10" font-weight="normal" fill="#aaa" text-anchor="start" font-family='"Liberation Sans", sans-serif' textLength="8" lengthAdjust="spacingAndGlyphs" stroke="#aaa" stroke-width="0.1" >.l</text>
<text x="1572.4" y="931.2" font-size="13" font-weight="normal" fill="#222" text-anchor="start" font-family='"Liberation Sans", sans-serif' textLength="62.3" lengthAdjust="spacingAndGlyphs" stroke="#222" stroke-width="0.1" >Elnooontlod</text>
<text x="1590.9" y="947.3" font-size="12" font-weight="normal" fill="#333" text-anchor="start" font-family='"Liberation Sans", sans-serif' textLength="30.7" lengthAdjust="spacingAndGlyphs" stroke="#333" stroke-width="0.1" >fowue</text>
<circle cx="902" cy="969.8" r="3.5" fill="none" stroke="#bbb" stroke-width="1"/><text x="912" y="973.6" font-size="12" font-weight="normal" fill="#555" text-anchor="start" font-family='"Liberation Sans", sans-serif' textLength="98.7" lengthAdjust="spacingAndGlyphs" stroke="#555" stroke-width="0.1" font-style="italic">ouppnn oo nnnnnnnn</text>
<rect x="1033.8" y="957.3" width="40.8" height="20.1" rx="10" fill="#4fc0ea"/><text x="1047" y="971" font-size="9" font-weight="bold" fill="#fff" text-anchor="start" font-family='"Liberation Sans", sans-serif' textLength="13" lengthAdjust="spacingAndGlyphs" >OJ</text>
<circle cx="1196.5" cy="969.4" r="5.2" fill="#cfe6ee"/><text x="1208.2" y="973.6" font-size="12" font-weight="normal" fill="#777" text-anchor="start" font-family='"Liberation Sans", sans-serif' textLength="22.6" lengthAdjust="spacingAndGlyphs" stroke="#777" stroke-width="0.1" >OIIIS</text>
<rect x="1348.3" y="957.3" width="39.4" height="20.1" rx="10" fill="#22cfb4"/><rect x="1364" y="964" width="9" height="6" fill="#fff"/><text x="1400.9" y="973.6" font-size="12" font-weight="normal" fill="#777" text-anchor="start" font-family='"Liberation Sans", sans-serif' textLength="15.1" lengthAdjust="spacingAndGlyphs" stroke="#777" stroke-width="0.1" >110</text>
<circle cx="1518" cy="969.4" r="6" fill="#1ec39c"/><text x="1529.3" y="974.3" font-size="12" font-weight="normal" fill="#222" text-anchor="start" font-family='"Liberation Sans", sans-serif' textLength="48.5" lengthAdjust="spacingAndGlyphs" stroke="#222" stroke-width="0.1" >3M.tonns</text>

</svg>
</body></html>
